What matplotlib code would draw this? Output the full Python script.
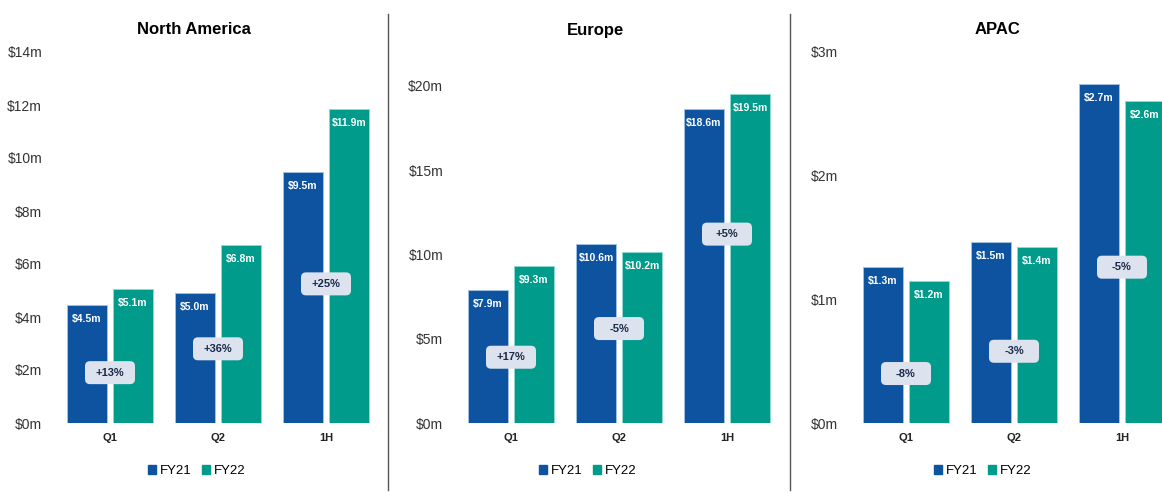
import numpy as np
import matplotlib.pyplot as plt
from matplotlib.lines import Line2D
from matplotlib.patches import Patch, FancyBboxPatch
from matplotlib.transforms import ScaledTranslation

plt.rcParams['font.family'] = ['Liberation Sans', 'DejaVu Sans']

categories = ["Q1", "Q2", "1H"]
regions = ["North America", "Europe", "APAC"]

# revenue in $m
fy21 = {
    "North America": [4.45, 4.9, 9.47],
    "Europe": [7.9, 10.6, 18.6],
    "APAC": [1.26, 1.46, 2.74],
}
fy22 = {
    "North America": [5.06, 6.72, 11.85],
    "Europe": [9.3, 10.15, 19.5],
    "APAC": [1.15, 1.42, 2.60],
}
fy21_labels = {
    "North America": ["$4.5m", "$5.0m", "$9.5m"],
    "Europe": ["$7.9m", "$10.6m", "$18.6m"],
    "APAC": ["$1.3m", "$1.5m", "$2.7m"],
}
fy22_labels = {
    "North America": ["$5.1m", "$6.8m", "$11.9m"],
    "Europe": ["$9.3m", "$10.2m", "$19.5m"],
    "APAC": ["$1.2m", "$1.4m", "$2.6m"],
}
growth = {
    "North America": ["+13%", "+36%", "+25%"],
    "Europe": ["+17%", "-5%", "+5%"],
    "APAC": ["-8%", "-3%", "-5%"],
}
# vertical position of the growth badges ($m)
badge_y = {
    "North America": [1.9, 2.8, 5.25],
    "Europe": [3.9, 5.6, 11.2],
    "APAC": [0.40, 0.58, 1.26],
}
y_limits = {"North America": 14, "Europe": 22, "APAC": 3}
y_ticks = {
    "North America": np.arange(0, 15, 2),
    "Europe": np.arange(0, 21, 5),
    "APAC": np.arange(0, 4, 1),
}

c21 = "#0d53a0"
c22 = "#009b8b"
W, H = 1162, 493

fig = plt.figure(figsize=(W / 100, H / 100), dpi=100)

axes_left = [56, 457, 852]       # px
title_x = [194, 596, 997]
legend_x = [197, 588, 983]
ax_w = 324
ax_bottom, ax_top = 70, 441      # px from bottom

x = np.arange(len(categories))
bw = 0.37
off = 0.213

for i, reg in enumerate(regions):
    ax = fig.add_axes([axes_left[i] / W, ax_bottom / H, ax_w / W, (ax_top - ax_bottom) / H])
    b1 = ax.bar(x - off, fy21[reg], bw, color=c21, edgecolor="#9fbfe3", linewidth=0.7)
    b2 = ax.bar(x + off, fy22[reg], bw, color=c22, edgecolor="#8fd8cf", linewidth=0.7)
    for bars, labs in ((b1, fy21_labels[reg]), (b2, fy22_labels[reg])):
        for b, lab in zip(bars, labs):
            ax.annotate(lab, (b.get_x() + b.get_width() / 2, b.get_height()),
                        xytext=(0, -10), textcoords="offset points",
                        ha="center", va="center", color="white",
                        fontsize=7.5, fontweight="bold")
    for j in range(len(categories)):
        # fixed-size rounded badge (inches) centred on the data point
        tr = fig.dpi_scale_trans + ScaledTranslation(x[j], badge_y[reg][j], ax.transData)
        ax.add_patch(FancyBboxPatch((-0.23, -0.095), 0.46, 0.19,
                                    boxstyle="round,pad=0.02,rounding_size=0.05",
                                    fc="#dde3ee", ec="none", transform=tr, zorder=3))
        ax.text(x[j], badge_y[reg][j], growth[reg][j], ha="center", va="center",
                fontsize=8, fontweight="bold", color="#1c2a4a", zorder=4)
    ax.set_xlim(-0.5, 2.5)
    ax.set_ylim(0, y_limits[reg])
    ax.set_yticks(y_ticks[reg])
    ax.set_yticklabels([f"${v}m" for v in y_ticks[reg]], fontsize=10, color="#333333")
    ax.set_xticks(x)
    ax.set_xticklabels(categories, fontsize=8, fontweight="bold", color="#222222")
    ax.tick_params(length=0, axis="y", pad=10)
    ax.tick_params(length=0, axis="x", pad=7)
    for s in ax.spines.values():
        s.set_visible(False)
    fig.text(title_x[i] / W, 1 - 30 / H, reg, ha="center", va="center",
             fontsize=12, fontweight="bold")
    handles = [Patch(color=c21, label="FY21"), Patch(color=c22, label="FY22")]
    fig.legend(handles=handles, loc="center", bbox_to_anchor=(legend_x[i] / W, 1 - 471 / H),
               ncol=2, frameon=False, fontsize=9.5, handlelength=0.6, handleheight=0.6,
               handletextpad=0.3, columnspacing=0.8)

# panel separators
for sx in (388, 790):
    fig.add_artist(Line2D([sx / W, sx / W], [1 - 490 / H, 1 - 14 / H],
                          color="#555555", linewidth=1))

fig.savefig("out.png", dpi=100)
